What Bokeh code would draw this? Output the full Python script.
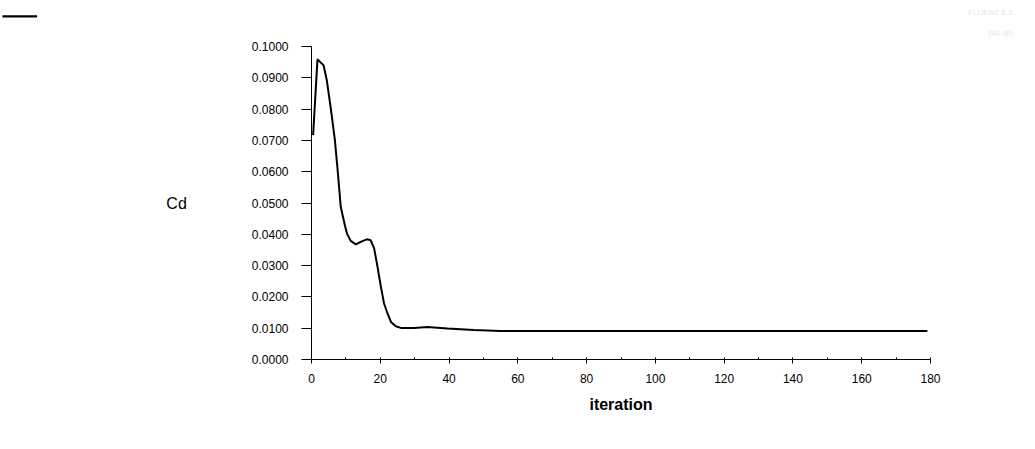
from bokeh.plotting import figure
from bokeh.models import (Range1d, SingleIntervalTicker, NumeralTickFormatter, Title)
from bokeh.embed import file_html
from bokeh.resources import INLINE

# Data (iteration, Cd)
iteration = [0.47, 1.74, 2.2, 3.5, 4.45, 5.6, 6.8, 7.6, 8.5, 9.7, 10.3, 11.4,
             12.9, 14.3, 16.1, 17.2, 18.2, 19.2, 20.1, 21.1, 22.1, 23.1, 24.5,
             26.0, 29.8, 33.7, 39.5, 47.2, 55.0, 179.1]
cd = [0.0717, 0.0959, 0.0954, 0.0940, 0.0892, 0.0803, 0.0701, 0.0605, 0.0488,
      0.0429, 0.0403, 0.0379, 0.0368, 0.0376, 0.0384, 0.0381, 0.0356, 0.0296,
      0.0237, 0.0179, 0.0147, 0.0120, 0.0106, 0.0101, 0.0101, 0.0104, 0.0099,
      0.0094, 0.0091, 0.0091]

x_label = "iteration"
y_label = "Cd"
watermark = ["FLUENT 6.3", "(2d, dp)"]

p = figure(output_backend="svg", toolbar_location=None,
           frame_width=619, frame_height=313,
           x_range=Range1d(0, 180), y_range=Range1d(0, 0.1))
p.min_border_left = 311
p.min_border_right = 89
p.min_border_top = 46
p.min_border_bottom = 71
p.outline_line_color = None
p.xgrid.visible = False
p.ygrid.visible = False

r = p.line(iteration, cd, line_color="black", line_width=2)

font = "Liberation Sans"
xa = p.xaxis[0]
xa.ticker = SingleIntervalTicker(interval=20, num_minor_ticks=2)
xa.axis_label = x_label
xa.axis_label_text_font = font
xa.axis_label_text_font_size = "16px"
xa.axis_label_text_font_style = "bold"
xa.axis_label_text_color = "black"
xa.axis_label_standoff = 10
xa.major_label_text_font = font
xa.major_label_text_font_size = "12px"
xa.major_label_text_color = "black"
xa.major_label_standoff = 10
xa.major_tick_out = 4
xa.major_tick_in = 0
xa.minor_tick_in = 2
xa.minor_tick_out = 0
xa.axis_line_color = "black"

ya = p.yaxis[0]
ya.ticker = SingleIntervalTicker(interval=0.01, num_minor_ticks=0)
ya.formatter = NumeralTickFormatter(format="0.0000")
ya.axis_label = y_label
ya.axis_label_orientation = "horizontal"
ya.axis_label_text_font = font
ya.axis_label_text_font_size = "16px"
ya.axis_label_text_font_style = "normal"
ya.axis_label_text_color = "black"
ya.axis_label_standoff = 62
ya.major_label_text_font = font
ya.major_label_text_font_size = "12px"
ya.major_label_text_color = "black"
ya.major_label_standoff = 13
ya.major_tick_out = 10
ya.major_tick_in = 0
ya.minor_tick_line_color = None
ya.axis_line_color = "black"

# faint watermark (top-right), stacked above the frame
p.add_layout(Title(text=watermark[1], align="right", offset=-82, standoff=21,
                   text_font=font, text_font_size="7px", text_color="#e4e4e4",
                   text_font_style="normal"), "above")
p.add_layout(Title(text=watermark[0], align="right", offset=-82, standoff=0,
                   text_font=font, text_font_size="8px", text_color="#e4e4e4",
                   text_font_style="normal"), "above")
# short legend swatch (top-left)
p.add_layout(Title(text=" ", align="left", offset=-309, standoff=-24,
                   text_font_size="2px", padding=(17, 17, 0, 0),
                   background_fill_color="black"), "above")

open("out.html", "w").write(file_html(p, INLINE))
